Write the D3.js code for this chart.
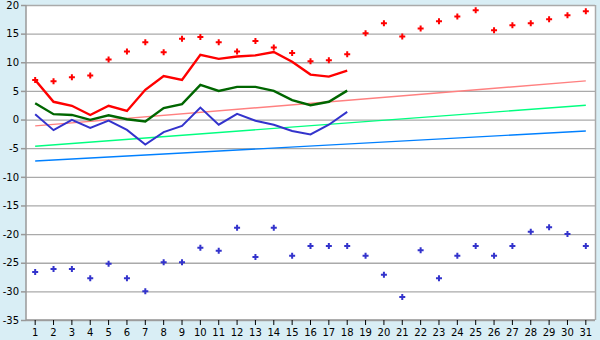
<!DOCTYPE html>
<meta charset="utf-8">
<style>
body { margin: 0; background: #d9eef5; }
svg { display: block; }
.tick text { font: 10px "DejaVu Sans", sans-serif; fill: #000; }
</style>
<svg width="600" height="340" id="svg"></svg>
<script src="https://d3js.org/d3.v7.min.js"></script>
<script>

var days = d3.range(1, 32);

// daily maxima / minima markers
var redPts = [6.9, 6.7, 7.4, 7.7, 10.5, 11.9, 13.5, 11.75, 14.1, 14.4, 13.5, 11.9, 13.7, 12.6, 11.6, 10.2,
  10.35, 11.4, 15.05, 16.8, 14.5, 15.9, 17.15, 18.0, 19.1, 15.6, 16.45, 16.8, 17.5, 18.2, 18.9];
var bluePts = [-26.6, -26.1, -26.1, -27.7, -25.2, -27.7, -30.0, -24.9, -24.9, -22.4, -22.9, -18.9, -24.0, -18.9,
  -23.8, -22.1, -22.1, -22.1, -23.8, -27.1, -31.0, -22.8, -27.7, -23.8, -22.1, -23.8, -22.1, -19.6, -18.8, -20.0, -22.1];

// measured lines, first 18 days
var redLine = [6.9, 3.1, 2.4, 0.8, 2.4, 1.5, 5.2, 7.6, 6.9, 11.3, 10.6, 11.0, 11.2, 11.8, 10.1, 7.85, 7.5, 8.55];
var greenLine = [2.85, 0.94, 0.8, -0.05, 0.75, 0.06, -0.35, 2.0, 2.7, 6.05, 5.0, 5.7, 5.7, 5.0, 3.4, 2.5, 3.1, 5.05];
var blueLine = [0.94, -1.85, -0.05, -1.45, -0.2, -1.8, -4.35, -2.2, -1.1, 2.1, -0.9, 1.0, -0.2, -0.9, -2.0, -2.6, -0.9, 1.34];

// normals: value on day 1 and day 31
var pinkTrend = [-1.1, 6.75];
var greenTrend = [-4.65, 2.5];
var blueTrend = [-7.25, -2.0];

var yTicks = d3.range(-35, 21, 5);

var svg = d3.select("svg"),
    pl = 26, pr = 595, pt = 5, pb = 320;

var x = d3.scaleBand().domain(days).range([pl, pr]);
var y = d3.scaleLinear().domain([-35, 20]).range([pb, pt]);
var cx = function(d) { return x(d) + x.bandwidth() / 2; };

svg.append("rect")
    .attr("x", pl).attr("y", pt)
    .attr("width", pr - pl).attr("height", pb - pt)
    .attr("fill", "#fff");

svg.append("g")
  .selectAll("line")
  .data(yTicks)
  .enter().append("line")
    .attr("x1", pl).attr("x2", pr)
    .attr("y1", function(d) { return y(d) + 0.5; })
    .attr("y2", function(d) { return y(d) + 0.5; })
    .attr("stroke", "#aaa")
    .attr("stroke-width", 1.3);

svg.append("line")
    .attr("x1", pr + 0.5).attr("x2", pr + 0.5)
    .attr("y1", pt).attr("y2", pb)
    .attr("stroke", "#aaa").attr("stroke-width", 1.5);

var yAxis = svg.append("g")
    .attr("transform", "translate(" + pl + ",0)")
    .call(d3.axisLeft(y).tickValues(yTicks).tickSize(5).tickPadding(2).tickFormat(d3.format("d")));
yAxis.selectAll("line, path").attr("stroke", "#999").attr("stroke-width", 1.5);
yAxis.select(".domain").attr("d", "M0," + pt + "V" + pb);
yAxis.selectAll("text").text(function(d) { return String(d); });

var xAxis = svg.append("g")
    .attr("transform", "translate(0," + pb + ")")
    .call(d3.axisBottom(x).tickSize(5).tickPadding(4));
xAxis.selectAll("line").attr("stroke", "#000");
xAxis.select(".domain").attr("stroke", "#999").attr("stroke-width", 1.5)
    .attr("d", "M" + pl + ",0H" + pr);

function trend(vals, color) {
  svg.append("line")
      .attr("x1", cx(1)).attr("x2", cx(31))
      .attr("y1", y(vals[0])).attr("y2", y(vals[1]))
      .attr("stroke", color).attr("stroke-width", 1.4);
}
trend(pinkTrend, "#ff8080");
trend(greenTrend, "#00ff80");
trend(blueTrend, "#0080ff");

var line = d3.line()
    .x(function(d, i) { return cx(i + 1); })
    .y(function(d) { return y(d); });

svg.append("path").datum(blueLine).attr("d", line)
    .attr("fill", "none").attr("stroke", "#3333cc").attr("stroke-width", 2);
svg.append("path").datum(greenLine).attr("d", line)
    .attr("fill", "none").attr("stroke", "#006600").attr("stroke-width", 2.4);
svg.append("path").datum(redLine).attr("d", line)
    .attr("fill", "none").attr("stroke", "#ff0000").attr("stroke-width", 2.4);

var cross = d3.symbol().type(d3.symbolCross).size(20);

function markers(vals, color) {
  svg.append("g")
    .selectAll("path")
    .data(vals)
    .enter().append("path")
      .attr("d", cross)
      .attr("transform", function(d, i) { return "translate(" + cx(i + 1) + "," + y(d) + ")"; })
      .attr("fill", color);
}
markers(redPts, "#ff0000");
markers(bluePts, "#3333cc");

</script>
